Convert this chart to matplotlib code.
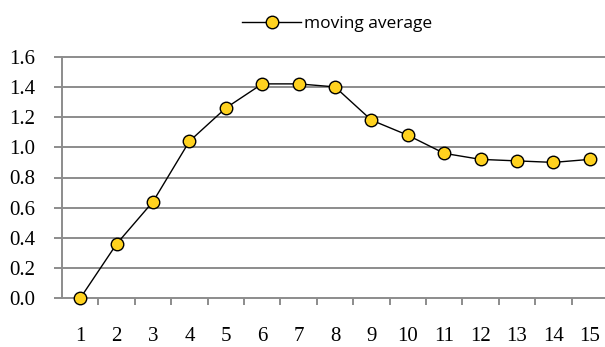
import matplotlib
matplotlib.use("Agg")
import matplotlib.pyplot as plt
import numpy as np

periods = list(range(1, 16))
moving_average = [0.0, 0.36, 0.64, 1.04, 1.26, 1.42, 1.42, 1.40, 1.18, 1.08, 0.96, 0.92, 0.91, 0.90, 0.92]
y_ticks = [0.0, 0.2, 0.4, 0.6, 0.8, 1.0, 1.2, 1.4, 1.6]
series_label = "moving average"

fig = plt.figure(figsize=(6.05, 3.47), dpi=100)
ax = fig.add_axes([62/605, 48.7/347, 546/605, 241.6/347])

grid_c = "#8c8c8c"
for v in y_ticks:
    ax.axhline(v, color=grid_c, lw=1.4, zorder=1, clip_on=False)

line, = ax.plot(periods, moving_average, color="black", lw=1.0, marker="o",
                markersize=9, markerfacecolor="#FFD21F", markeredgecolor="black",
                markeredgewidth=1.0, zorder=3, clip_on=False, label=series_label)

ax.set_xlim(0.5, 15.5)
ax.set_ylim(0, 1.6)
for s in ["top", "right", "bottom"]:
    ax.spines[s].set_visible(False)
ax.spines["left"].set_color(grid_c)
ax.spines["left"].set_linewidth(1.4)

ax.set_xticks(np.arange(1.5, 15.5, 1.0), minor=True)
ax.set_xticks(periods)
ax.set_yticks(y_ticks)
ax.tick_params(axis="y", length=6, width=1.4, color=grid_c, pad=13)
ax.tick_params(axis="x", which="major", length=0, pad=21)
ax.tick_params(axis="x", which="minor", length=5, width=1.4, color=grid_c,
               direction="out")
ax.set_yticklabels([f"{v:.1f}" for v in y_ticks], fontfamily="Liberation Serif",
                   fontsize=15)
ax.set_xticklabels([str(p) for p in periods], fontfamily="Liberation Serif",
                   fontsize=15)

fig.legend(handles=[line], loc="center", bbox_to_anchor=(337/605, 1 - 24/347),
           frameon=False, handlelength=3.4, handletextpad=0.15,
           prop={"family": "Open Sans", "size": 12.5})

fig.savefig("out.png", dpi=100)
